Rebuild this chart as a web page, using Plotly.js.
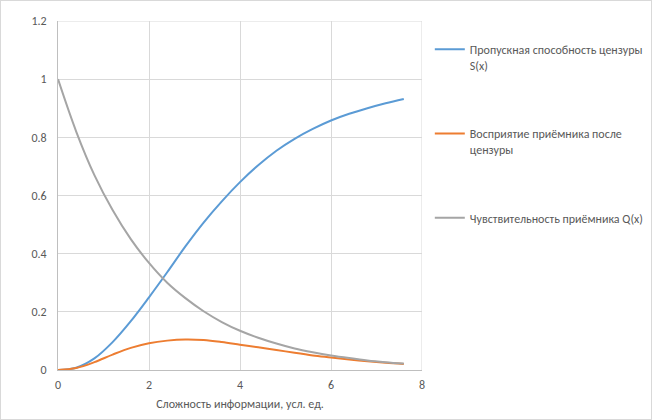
<!DOCTYPE html>
<html>
<head>
<meta charset="utf-8">
<script src="https://cdn.plot.ly/plotly-3.0.1.min.js"></script>
<style>
html,body{margin:0;padding:0;background:#fff;}
#chart{width:652px;height:420px;box-sizing:border-box;border:1px solid #d9d9d9;}
</style>
</head>
<body>
<div id="chart"></div>
<script>
const xValues = [0, 0.4, 0.8, 1.2, 1.6, 2.0, 2.4, 2.8, 3.2, 3.6, 4.0, 4.4, 4.8, 5.2, 5.6, 6.0, 6.4, 6.8, 7.2, 7.6];
const censorS = [0, 0.008, 0.040, 0.096, 0.168, 0.250, 0.336, 0.425, 0.507, 0.580, 0.646, 0.704, 0.754, 0.795, 0.829, 0.858, 0.881, 0.900, 0.917, 0.932];
const perception = [0, 0.007, 0.027, 0.053, 0.076, 0.092, 0.101, 0.105, 0.103, 0.096, 0.087, 0.078, 0.069, 0.059, 0.050, 0.043, 0.036, 0.030, 0.025, 0.021];
const sensitivityQ = [1, 0.82, 0.67, 0.55, 0.45, 0.368, 0.30, 0.247, 0.202, 0.165, 0.135, 0.111, 0.091, 0.074, 0.061, 0.050, 0.041, 0.033, 0.027, 0.022];
const seriesNames = [
  "Пропускная способность цензуры<br>S(x)",
  "Восприятие приёмника после<br>цензуры",
  "Чувствительность приёмника Q(x)"
];
const xTitle = "Сложность информации, усл. ед.";

const FONT = "Calibri, Carlito, 'Liberation Sans', Arial, sans-serif";
const colors = ["#5b9bd5", "#ed7d31", "#a5a5a5"];
const ys = [censorS, perception, sensitivityQ];

const traces = ys.map((y, i) => ({
  type: "scatter",
  mode: "lines",
  x: xValues,
  y: y,
  name: seriesNames[i],
  legendgroup: "g" + i,
  line: {color: colors[i], width: 2, shape: "spline", smoothing: 1},
  hoverinfo: "skip"
}));

const layout = {
  width: 650,
  height: 418,
  margin: {l: 57, r: 0, t: 20, b: 49},
  paper_bgcolor: "#ffffff",
  plot_bgcolor: "#ffffff",
  font: {family: FONT, size: 12, color: "#595959"},
  showlegend: true,
  legend: {
    x: 0.627, y: 0.96, xanchor: "left", yanchor: "top",
    valign: "top",
    tracegroupgap: 50,
    font: {family: FONT, size: 12, color: "#595959"},
    bgcolor: "rgba(0,0,0,0)"
  },
  xaxis: {
    domain: [0, 364 / 593],
    range: [0, 8],
    tickvals: [0, 2, 4, 6, 8],
    showgrid: true, gridcolor: "#d9d9d9", gridwidth: 1,
    zeroline: false,
    showline: true, linecolor: "#bfbfbf", linewidth: 1,
    ticks: "", ticklabelstandoff: 4,
    tickfont: {family: FONT, size: 12, color: "#595959"},
    title: {text: xTitle, font: {family: FONT, size: 12, color: "#595959"}, standoff: 8},
    fixedrange: true
  },
  yaxis: {
    range: [0, 1.2],
    tickvals: [0, 0.2, 0.4, 0.6, 0.8, 1, 1.2],
    showgrid: true, gridcolor: "#d9d9d9", gridwidth: 1,
    zeroline: false,
    showline: true, linecolor: "#bfbfbf", linewidth: 1,
    ticks: "", ticklabelstandoff: 8,
    tickfont: {family: FONT, size: 12, color: "#595959"},
    fixedrange: true
  },
  shapes: [{
    type: "line", xref: "x", yref: "y domain", x0: 8, x1: 8, y0: 0, y1: 1,
    line: {color: "#d9d9d9", width: 1}, layer: "below"
  }, {
    type: "line", xref: "x domain", yref: "y", x0: 0, x1: 1, y0: 1.2, y1: 1.2,
    line: {color: "#d9d9d9", width: 1}, layer: "below"
  }]
};

Plotly.newPlot("chart", traces, layout, {staticPlot: true, displayModeBar: false});
</script>
</body>
</html>
